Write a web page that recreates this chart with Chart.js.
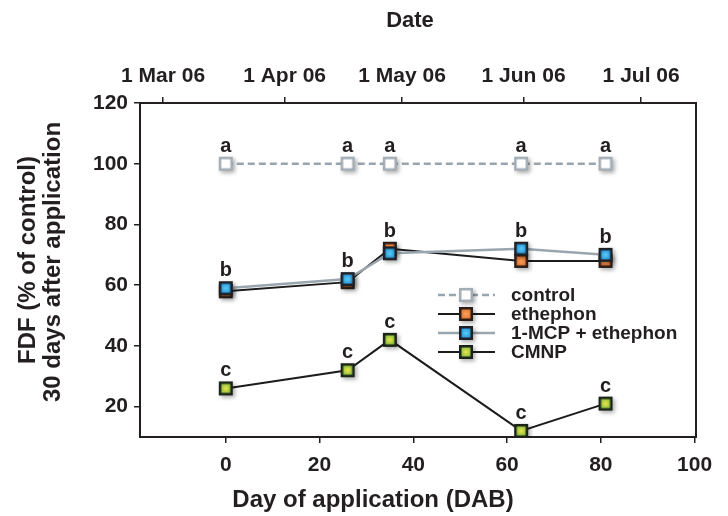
<!DOCTYPE html>
<html>
<head>
<meta charset="utf-8">
<script src="https://cdn.jsdelivr.net/npm/chart.js@4.4.1/dist/chart.umd.min.js"></script>
<style>
  html, body { margin: 0; padding: 0; background: #ffffff; }
  #wrap { width: 728px; height: 516px; position: relative; }
</style>
</head>
<body>
<div id="wrap"><canvas id="c" width="728" height="516"></canvas></div>
<script>
// ---- data ----
const dab = [0, 26, 35, 63, 81];                 // Day of application (DAB)
const controlVals  = [100, 100, 100, 100, 100];
const ethephonVals = [58, 61, 72, 68, 68];
const mcpVals      = [59, 62, 70.5, 72, 70];
const cmnpVals     = [26, 32, 42, 12, 21];
const controlLetters = ['a', 'a', 'a', 'a', 'a'];
const treatedLetters = ['b', 'b', 'b', 'b', 'b'];
const cmnpLetters    = ['c', 'c', 'c', 'c', 'c'];
const seriesNames = ['control', 'ethephon', '1-MCP + ethephon', 'CMNP'];
const yTicks = [20, 40, 60, 80, 100, 120];
const xTicks = [0, 20, 40, 60, 80, 100];
const dateTickDays = [0, 31, 61, 92, 122];       // days since 1 Mar 06
const dateTickLabels = ['1 Mar 06', '1 Apr 06', '1 May 06', '1 Jun 06', '1 Jul 06'];

const FONT = "'Liberation Sans', Arial, sans-serif";
const TXT = '#231f20';

function makeMarker(inner, outer, stroke, lw) {
  const cv = document.createElement('canvas');
  cv.width = 26; cv.height = 26;
  const g = cv.getContext('2d');
  const s = 11.5, x0 = 13 - s / 2, y0 = 13 - s / 2;
  g.save();
  g.shadowColor = 'rgba(0,0,0,0.35)';
  g.shadowBlur = 4; g.shadowOffsetX = 2; g.shadowOffsetY = 2;
  g.fillStyle = stroke;
  g.fillRect(x0 - lw / 2, y0 - lw / 2, s + lw, s + lw);
  g.restore();
  const gr = g.createRadialGradient(13, 13, 0.5, 13, 13, s * 0.6);
  gr.addColorStop(0, inner); gr.addColorStop(1, outer);
  g.fillStyle = gr;
  g.fillRect(x0 + lw / 2, y0 + lw / 2, s - lw, s - lw);
  return cv;
}
const mControl = makeMarker('#ffffff', '#ffffff', '#a3adb5', 2.5);
const mEth = makeMarker('#f6a055', '#e2672c', '#2a1d18', 2.5);
const mMcp = makeMarker('#55c8f2', '#1d86d2', '#1d2025', 2.5);
const mCmnp = makeMarker('#e4e24a', '#6fb43c', '#1b2318', 2.5);

function pts(vals) { return dab.map((d, i) => ({ x: d, y: vals[i] })); }

const seriesStyles = [
  { line: '#98a4ae', dash: [7, 4], width: 2.5, marker: mControl },
  { line: '#1c1c1c', dash: [], width: 2, marker: mEth },
  { line: '#9aa6ae', dash: [], width: 2.5, marker: mMcp },
  { line: '#1c1c1c', dash: [], width: 2, marker: mCmnp }
];
const seriesVals = [controlVals, ethephonVals, mcpVals, cmnpVals];

const datasets = seriesNames.map((name, i) => ({
  label: name,
  data: pts(seriesVals[i]),
  borderColor: seriesStyles[i].line,
  borderDash: seriesStyles[i].dash,
  borderWidth: seriesStyles[i].width,
  pointStyle: seriesStyles[i].marker,
  pointRadius: 6,
  pointHoverRadius: 6,
  tension: 0,
  fill: false,
  xAxisID: 'x',
  yAxisID: 'y'
}));
// Draw order: CMNP, control, ethephon, then 1-MCP on top
datasets[0].order = 3; datasets[3].order = 4; datasets[1].order = 2; datasets[2].order = 1;

const overlay = {
  id: 'overlay',
  beforeDatasetsDraw(chart) {
    const { ctx, chartArea: a } = chart;
    ctx.save();
    ctx.strokeStyle = '#231f20';
    ctx.lineWidth = 2;
    ctx.strokeRect(a.left, a.top, a.right - a.left, a.bottom - a.top);
    ctx.restore();
  },
  afterDatasetsDraw(chart) {
    const { ctx } = chart;
    const xs = chart.scales.x, ys = chart.scales.y;
    ctx.save();
    ctx.fillStyle = TXT;
    ctx.font = 'bold 20px ' + FONT;
    ctx.textAlign = 'center';
    ctx.textBaseline = 'alphabetic';
    dab.forEach((d, i) => {
      const px = xs.getPixelForValue(d);
      ctx.fillText(controlLetters[i], px, ys.getPixelForValue(controlVals[i]) - 12);
      const top = Math.max(ethephonVals[i], mcpVals[i]);
      ctx.fillText(treatedLetters[i], px, ys.getPixelForValue(top) - 12);
      ctx.fillText(cmnpLetters[i], px, ys.getPixelForValue(cmnpVals[i]) - 12);
    });
    // legend
    const rows = [295, 314, 333, 352];
    seriesNames.forEach((name, i) => {
      const st = seriesStyles[i];
      const y = rows[i];
      ctx.save();
      ctx.strokeStyle = st.line;
      ctx.lineWidth = st.width;
      ctx.setLineDash(st.dash);
      ctx.beginPath(); ctx.moveTo(438, y); ctx.lineTo(495, y); ctx.stroke();
      ctx.restore();
      ctx.drawImage(st.marker, 466 - 13, y - 13);
      ctx.fillStyle = TXT;
      ctx.font = 'bold 19px ' + FONT;
      ctx.textAlign = 'left';
      ctx.textBaseline = 'middle';
      ctx.fillText(name, 511, y + 1);
    });
    ctx.restore();
  },
  afterDraw(chart) {
    const { ctx } = chart;
    ctx.save();
    ctx.fillStyle = TXT;
    ctx.textAlign = 'center';
    ctx.textBaseline = 'middle';
    ctx.font = 'bold 22px ' + FONT;
    ctx.fillText('Date', 410, 21);
    ctx.font = 'bold 24px ' + FONT;
    ctx.fillText('Day of application (DAB)', 373, 500);
    ctx.save();
    ctx.translate(28, 260); ctx.rotate(-Math.PI / 2);
    ctx.fillText('FDF (% of control)', 0, 0);
    ctx.restore();
    ctx.save();
    ctx.translate(53, 262); ctx.rotate(-Math.PI / 2);
    ctx.fillText('30 days after application', 0, 0);
    ctx.restore();
    ctx.restore();
  }
};

const tickFont = { family: FONT, size: 21, weight: 'bold' };
const gridOpts = { drawOnChartArea: false, drawTicks: true, tickLength: 6, color: '#231f20', lineWidth: 1.5 };

new Chart(document.getElementById('c'), {
  type: 'line',
  data: { datasets },
  plugins: [overlay],
  options: {
    responsive: false,
    animation: false,
    devicePixelRatio: 1,
    layout: { padding: { left: 0, right: 32, top: 0, bottom: 0 } },
    plugins: { legend: { display: false }, tooltip: { enabled: false } },
    scales: {
      x: {
        type: 'linear', position: 'bottom', min: -18.3, max: 100.3,
        afterBuildTicks: s => { s.ticks = xTicks.map(v => ({ value: v })); },
        afterFit: s => { s.height = 79; },
        ticks: { font: tickFont, color: TXT, padding: 10, maxRotation: 0 },
        grid: gridOpts,
        border: { color: '#231f20', width: 2 }
      },
      xTop: {
        type: 'linear', position: 'top', min: -5.9, max: 136,
        afterBuildTicks: s => { s.ticks = dateTickDays.map(v => ({ value: v })); },
        afterFit: s => { s.height = 103; },
        ticks: {
          font: tickFont, color: TXT, padding: 8, maxRotation: 0, autoSkip: false,
          callback: (v) => { const k = dateTickDays.indexOf(v); return k >= 0 ? dateTickLabels[k] : ''; }
        },
        grid: gridOpts,
        border: { color: '#231f20', width: 2 }
      },
      y: {
        type: 'linear', position: 'left', min: 10, max: 120,
        afterBuildTicks: s => { s.ticks = yTicks.map(v => ({ value: v })); },
        afterFit: s => { s.width = 140; },
        ticks: { font: tickFont, color: TXT, padding: 6 },
        grid: gridOpts,
        border: { color: '#231f20', width: 2 }
      }
    }
  }
});
</script>
</body>
</html>
